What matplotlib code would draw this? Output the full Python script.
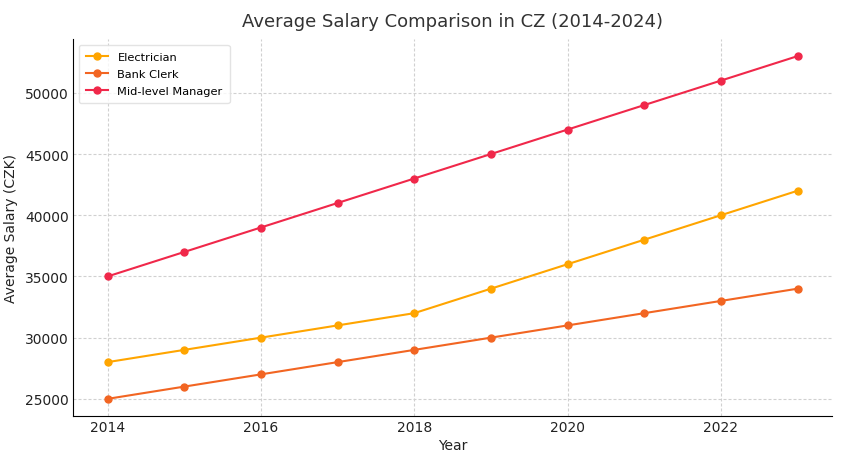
import matplotlib
matplotlib.use("Agg")
import matplotlib.pyplot as plt

years = [2014, 2015, 2016, 2017, 2018, 2019, 2020, 2021, 2022, 2023]
electrician = [28000, 29000, 30000, 31000, 32000, 34000, 36000, 38000, 40000, 42000]
bank_clerk = [25000, 26000, 27000, 28000, 29000, 30000, 31000, 32000, 33000, 34000]
manager = [35000, 37000, 39000, 41000, 43000, 45000, 47000, 49000, 51000, 53000]
labels = ["Electrician", "Bank Clerk", "Mid-level Manager"]
colors = ["#FFA500", "#F26522", "#F0284A"]

fig = plt.figure(figsize=(8.52, 4.6), dpi=100)
ax = fig.add_axes([73/852, 1 - 417/460, (832-73)/852, (417-40)/460])

for data, lab, c in zip([electrician, bank_clerk, manager], labels, colors):
    ax.plot(years, data, marker="o", markersize=5, linewidth=1.5, color=c, label=lab)

ax.set_title("Average Salary Comparison in CZ (2014-2024)", fontsize=13, color="#333333", pad=9)
ax.set_xlabel("Year", fontsize=10, color="#222222", labelpad=3)
ax.set_ylabel("Average Salary (CZK)", fontsize=10, color="#222222", labelpad=5)
ax.grid(True, linestyle=(0, (2.7, 1.8)), color="#d0d0d0", linewidth=0.8)
ax.set_axisbelow(True)
for s in ["top", "right"]:
    ax.spines[s].set_visible(False)
ax.tick_params(axis="both", length=0, pad=3, labelsize=10, colors="#222222")
ax.set_xticks([2014, 2016, 2018, 2020, 2022])
ax.set_yticks([25000, 30000, 35000, 40000, 45000, 50000])
ax.margins(0.05)
ax.legend(loc="upper left", fontsize=8.2, frameon=True, edgecolor="#dddddd",
          labelspacing=0.65, borderpad=0.6)

fig.savefig("out.png", dpi=100)
